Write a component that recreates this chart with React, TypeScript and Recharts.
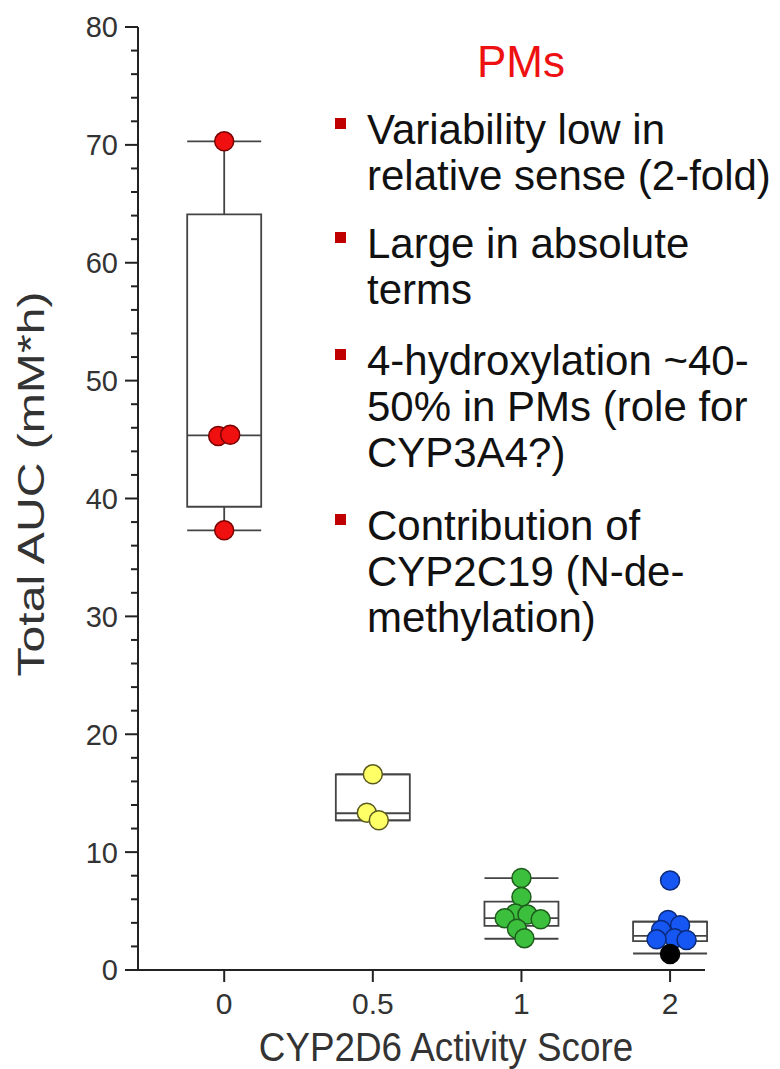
import React from 'react';
import {
  ComposedChart,
  Scatter,
  XAxis,
  YAxis,
  ReferenceArea,
  ReferenceLine,
} from 'recharts';

// activity score groups, left to right
const categories = ['0', '0.5', '1', '2'];

// Total AUC (mM*h) of each subject, per group
const pmValues = [70.3, 45.3, 45.4, 37.3];
const as05Values = [16.6, 13.35, 12.7];
const as1Values = [7.8, 6.2, 4.8, 4.7, 4.4, 4.3, 3.5, 2.7];
const as2Values = [7.6, 4.25, 3.8, 3.4, 2.7, 2.6, 2.55];
const as2BlackValues = [1.35];

// box statistics per group (same order as categories)
const whiskerLow = [37.3, 12.7, 2.65, 1.4];
const boxQ1 = [39.3, 12.7, 3.75, 2.45];
const boxMedian = [45.35, 13.3, 4.4, 2.9];
const boxQ3 = [64.1, 16.6, 5.8, 4.1];
const whiskerHigh = [70.3, 16.6, 7.8, 4.1];

const yMajorTicks = [0, 10, 20, 30, 40, 50, 60, 70, 80];

const bullets = [
  ['Variability low in', 'relative sense (2-fold)'],
  ['Large in absolute', 'terms'],
  ['4-hydroxylation ~40-', '50% in PMs (role for', 'CYP3A4?)'],
  ['Contribution of', 'CYP2C19 (N-de-', 'methylation)'],
];
// y of the first line of each bullet
const bulletTops = [130, 244, 361, 526];

const FONT = '"Liberation Sans", Arial, Helvetica, sans-serif';
const W = 780;
const H = 1069;
const M_TOP = 27;
const M_RIGHT = 75;
const Y_AXIS_W = 138;
const X_AXIS_H = 99;
const PLOT_W = W - Y_AXIS_W - M_RIGHT;
const PLOT_H = H - M_TOP - X_AXIS_H;
const X_MIN = -0.58;
const X_MAX = 3.235;
const Y_MAX = 80;
const PX_X = PLOT_W / (X_MAX - X_MIN);
const PX_Y = PLOT_H / Y_MAX;
const BOX_HALF = 37 / PX_X;
const R = 9.5;
const LINE_H = 46;

const yTicks: number[] = [];
yMajorTicks.forEach((t) => {
  yTicks.push(t);
  if (t < Y_MAX) [2, 4, 6, 8].forEach((m) => yTicks.push(t + m));
});

// simple swarm so overlapping points spread sideways
function swarm(values: number[], group: number) {
  const placed: { dx: number; py: number }[] = [];
  const minDist = 11;
  const step = 6;
  const out = values.map((v) => {
    const py = v * PX_Y;
    let dx = 0;
    for (let k = 0; k < 20; k++) {
      const cand = k === 0 ? 0 : (k % 2 ? 1 : -1) * Math.ceil(k / 2) * step;
      const ok = placed.every((p) => Math.hypot(p.dx - cand, p.py - py) >= minDist);
      if (ok) {
        dx = cand;
        break;
      }
    }
    placed.push({ dx, py });
    return { dx, v };
  });
  // keep crowded pairs centred on the group
  return out.map(({ dx, v }) => {
    const near = out.filter((o) => Math.abs(o.v - v) * PX_Y < minDist);
    const shift = near.length > 1 ? near.reduce((a, o) => a + o.dx, 0) / near.length : 0;
    return { x: group + (dx - shift) / PX_X, y: v };
  });
}

const as2All = swarm([...as2Values, ...as2BlackValues], 3);

const series = [
  { name: 'AS 0', data: swarm(pmValues, 0), fill: '#f01010', stroke: '#7a0000' },
  { name: 'AS 0.5', data: swarm(as05Values, 1), fill: '#ffff66', stroke: '#5a5a20' },
  { name: 'AS 1', data: swarm(as1Values, 2), fill: '#3cbf3c', stroke: '#1d5e1d' },
  { name: 'AS 2', data: as2All.slice(0, as2Values.length), fill: '#1656f2', stroke: '#0a2a7a' },
  { name: 'AS 2 (other)', data: as2All.slice(as2Values.length), fill: '#000000', stroke: '#000000' },
];

const BOX_STROKE = '#444';

const YTick = (props: any) => {
  const { x, y, payload } = props;
  const major = payload.value % 10 === 0;
  return (
    <g>
      <line x1={x - (major ? 13 : 7)} x2={x} y1={y} y2={y} stroke="#222" strokeWidth={2} />
      {major && (
        <text x={x - 20} y={y} dy="0.36em" textAnchor="end" fontSize={29} fill="#333" fontFamily={FONT}>
          {payload.value}
        </text>
      )}
    </g>
  );
};

const XTick = (props: any) => {
  const { x, y, payload } = props;
  return (
    <g>
      <line x1={x} x2={x} y1={y} y2={y + 12} stroke="#222" strokeWidth={2} />
      <text x={x} y={y + 44} textAnchor="middle" fontSize={30} fill="#333" fontFamily={FONT}>
        {categories[payload.value]}
      </text>
    </g>
  );
};

export default function App() {
  return (
    <div style={{ position: 'absolute', left: 0, top: 0, width: W, height: H, background: '#fff', fontFamily: FONT }}>
      <ComposedChart width={W} height={H} margin={{ top: M_TOP, right: M_RIGHT, bottom: 0, left: 0 }}>
        <XAxis
          type="number"
          dataKey="x"
          domain={[X_MIN, X_MAX]}
          ticks={[0, 1, 2, 3]}
          allowDataOverflow
          height={X_AXIS_H}
          tickSize={0}
          tickMargin={0}
          tickLine={false}
          tick={<XTick />}
          axisLine={{ stroke: '#222', strokeWidth: 2 }}
        />
        <YAxis
          type="number"
          dataKey="y"
          domain={[0, Y_MAX]}
          ticks={yTicks}
          interval={0}
          allowDataOverflow
          width={Y_AXIS_W}
          tickSize={0}
          tickMargin={0}
          tickLine={false}
          tick={<YTick />}
          axisLine={{ stroke: '#222', strokeWidth: 2 }}
        />
        {categories.map((c, i) => (
          <ReferenceArea
            key={'box' + c}
            x1={i - BOX_HALF}
            x2={i + BOX_HALF}
            y1={boxQ1[i]}
            y2={boxQ3[i]}
            ifOverflow="visible"
            fill="#fff"
            fillOpacity={0}
            stroke={BOX_STROKE}
            strokeWidth={1.8}
          />
        ))}
        {categories.map((c, i) => (
          <ReferenceLine
            key={'med' + c}
            ifOverflow="visible"
            segment={[{ x: i - BOX_HALF, y: boxMedian[i] }, { x: i + BOX_HALF, y: boxMedian[i] }]}
            stroke={BOX_STROKE}
            strokeWidth={1.8}
          />
        ))}
        {categories.map((c, i) => (
          <ReferenceLine
            key={'wu' + c}
            ifOverflow="visible"
            segment={[{ x: i, y: boxQ3[i] }, { x: i, y: whiskerHigh[i] }]}
            stroke={BOX_STROKE}
            strokeWidth={1.8}
          />
        ))}
        {categories.map((c, i) => (
          <ReferenceLine
            key={'wl' + c}
            ifOverflow="visible"
            segment={[{ x: i, y: boxQ1[i] }, { x: i, y: whiskerLow[i] }]}
            stroke={BOX_STROKE}
            strokeWidth={1.8}
          />
        ))}
        {categories.map((c, i) => (
          <ReferenceLine
            key={'ch' + c}
            ifOverflow="visible"
            segment={[{ x: i - BOX_HALF, y: whiskerHigh[i] }, { x: i + BOX_HALF, y: whiskerHigh[i] }]}
            stroke={BOX_STROKE}
            strokeWidth={1.8}
          />
        ))}
        {categories.map((c, i) => (
          <ReferenceLine
            key={'cl' + c}
            ifOverflow="visible"
            segment={[{ x: i - BOX_HALF, y: whiskerLow[i] }, { x: i + BOX_HALF, y: whiskerLow[i] }]}
            stroke={BOX_STROKE}
            strokeWidth={1.8}
          />
        ))}
        {series.map((s) => (
          <Scatter
            key={s.name}
            name={s.name}
            data={s.data}
            isAnimationActive={false}
            shape={(p: any) => (
              <circle cx={p.cx} cy={p.cy} r={R} fill={s.fill} stroke={s.stroke} strokeWidth={1.5} />
            )}
          />
        ))}
      </ComposedChart>

      <div
        style={{
          position: 'absolute',
          left: 32,
          top: 484,
          transform: 'translate(-50%, -50%) rotate(-90deg) scaleX(1.3)',
          whiteSpace: 'nowrap',
          fontSize: 37,
          color: '#333',
        }}
      >
        Total AUC (mM*h)
      </div>
      <div
        style={{
          position: 'absolute',
          left: 446,
          top: 1047,
          transform: 'translate(-50%, -50%) scaleX(0.92)',
          whiteSpace: 'nowrap',
          fontSize: 40,
          color: '#333',
        }}
      >
        CYP2D6 Activity Score
      </div>

      <div
        style={{
          position: 'absolute',
          left: 521,
          top: 62,
          transform: 'translate(-50%, -50%)',
          fontSize: 44,
          color: '#ee1111',
          lineHeight: 1,
        }}
      >
        PMs
      </div>
      {bullets.map((lines, i) => (
        <div
          key={i}
          style={{ position: 'absolute', left: 335, top: bulletTops[i] - LINE_H / 2, paddingLeft: 32 }}
        >
          <div style={{ position: 'absolute', left: 0, top: 11, width: 11, height: 11, background: '#c00000' }} />
          {lines.map((l) => (
            <div key={l} style={{ fontSize: 42, lineHeight: LINE_H + 'px', color: '#111', whiteSpace: 'nowrap' }}>
              {l}
            </div>
          ))}
        </div>
      ))}
    </div>
  );
}
